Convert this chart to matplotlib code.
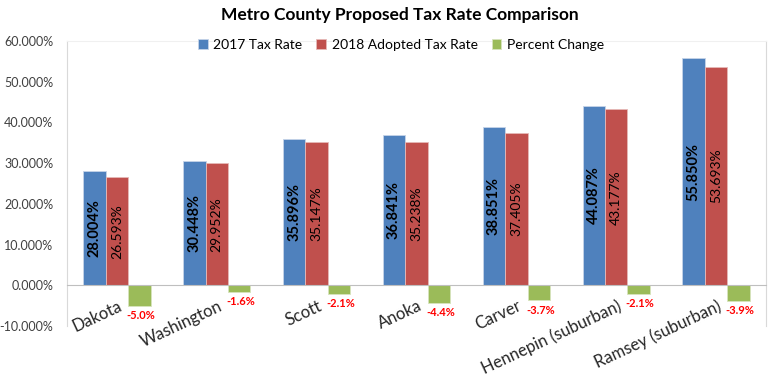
import matplotlib
matplotlib.use("Agg")
import matplotlib.pyplot as plt
import numpy as np
from matplotlib.ticker import FuncFormatter

plt.rcParams['font.family'] = ['Lato', 'DejaVu Sans']

categories = ["Dakota", "Washington", "Scott", "Anoka", "Carver",
              "Hennepin (suburban)", "Ramsey (suburban)"]
rate_2017 = [28.004, 30.448, 35.896, 36.841, 38.851, 44.087, 55.850]
rate_2018 = [26.593, 29.952, 35.147, 35.238, 37.405, 43.177, 53.693]
pct_change = [-5.0, -1.6, -2.1, -4.4, -3.7, -2.1, -3.9]

blue = "#4F81BD"
red = "#C0504D"
green = "#9BBB59"

fig = plt.figure(figsize=(7.68, 3.84), dpi=100)
ax = fig.add_axes([67/768, 1-326/384, 699/768, 285/384])

x = np.arange(len(categories))
w = 0.225
b1 = ax.bar(x - w, rate_2017, w, color=blue, edgecolor="#C6D4E8", linewidth=0.6, label="2017 Tax Rate")
b2 = ax.bar(x, rate_2018, w, color=red, edgecolor="#E6B9B8", linewidth=0.6, label="2018 Adopted Tax Rate")
b3 = ax.bar(x + w, pct_change, w, color=green, edgecolor="#D7E4BD", linewidth=0.6, label="Percent Change")

for xi, v in zip(x, rate_2017):
    ax.text(xi - w, v / 2, f"{v:.3f}%", rotation=90, ha="center", va="center",
            fontsize=10.5, fontweight="bold", color="black")
for xi, v in zip(x, rate_2018):
    ax.text(xi, v / 2, f"{v:.3f}%", rotation=90, ha="center", va="center",
            fontsize=10, color="black")
for xi, v in zip(x, pct_change):
    ax.annotate(f"{v:.1f}%", (xi + w, v), xytext=(1, -3), textcoords="offset points",
                ha="center", va="top", fontsize=8, fontweight="bold", color="#FF0000")

ax.set_xlim(-0.5, len(categories) - 0.5)
ax.set_ylim(-10, 60)
ax.set_yticks(np.arange(-10, 61, 10))
ax.yaxis.set_major_formatter(FuncFormatter(lambda v, p: f"{v:.3f}%"))
ax.tick_params(axis="y", length=0, labelsize=9, labelcolor="#404040", pad=10)

ax.spines["bottom"].set_position(("data", 0))
ax.spines["bottom"].set_color("#BFBFBF")
ax.spines["left"].set_color("#D9D9D9")
ax.spines["top"].set_color("#F0F0F0")
ax.spines["right"].set_color("#D9D9D9")

ax.set_xticks(x + 0.01)
ax.set_xticklabels(categories, rotation=25, ha="right", rotation_mode="anchor",
                   fontsize=12, color="#262626")
ax.tick_params(axis="x", length=0, pad=9)

fig.legend(handles=[b1, b2, b3], loc="center", bbox_to_anchor=(401/768, 1-45/384),
           ncol=3, frameon=False, fontsize=10, handlelength=0.7, handleheight=0.7,
           handletextpad=0.4, columnspacing=1.0)

fig.text(400/768, 1-15/384, "Metro County Proposed Tax Rate Comparison",
         ha="center", va="center", fontsize=12.5, fontweight="bold")

fig.savefig("out.png", dpi=100)
